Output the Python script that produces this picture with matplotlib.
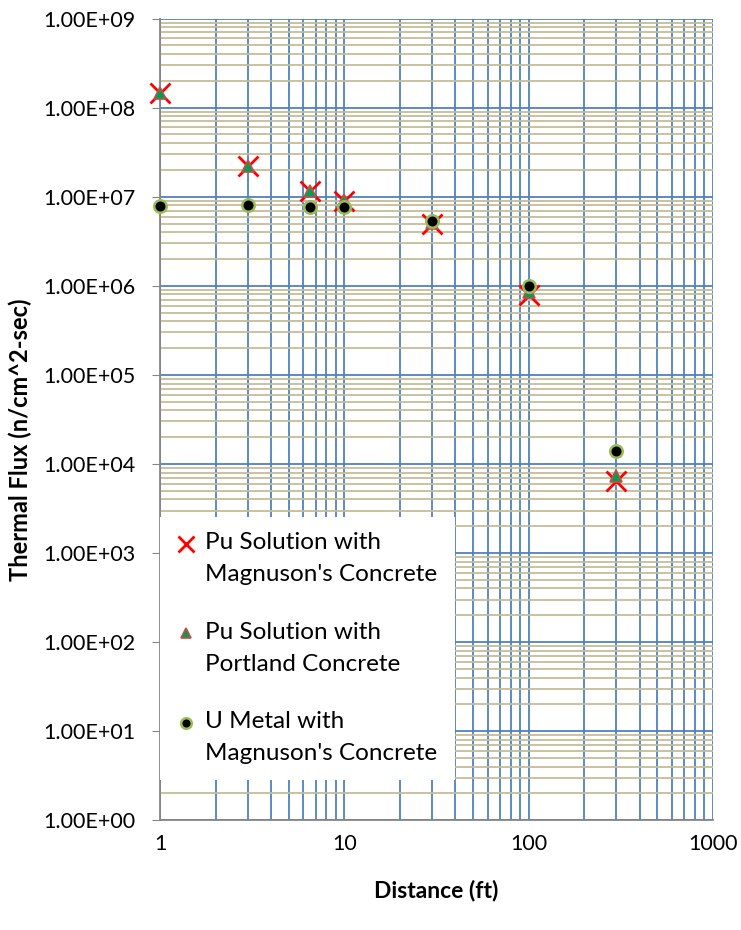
import numpy as np
import matplotlib.pyplot as plt
from matplotlib.ticker import LogLocator, FixedLocator, NullFormatter

# --- data ---
distance_ft = [1, 3, 6.5, 10, 30, 100, 300]
pu_magnuson = [1.47e8, 2.2e7, 1.15e7, 9.0e6, 5.0e6, 7.8e5, 6.5e3]
pu_portland = [1.45e8, 2.2e7, 1.17e7, 9.3e6, 5.1e6, 8.5e5, 7.3e3]
u_magnuson = [7.9e6, 8.0e6, 7.7e6, 7.7e6, 5.4e6, 1.0e6, 1.4e4]

labels = ["Pu Solution with\nMagnuson's Concrete",
          "Pu Solution with\nPortland Concrete",
          "U Metal with\nMagnuson's Concrete"]

plt.rcParams['font.family'] = ['Lato', 'DejaVu Sans']

fig = plt.figure(figsize=(7.41, 9.30), dpi=100)
ax = fig.add_axes([0.216, 0.118, 0.746, 0.862])

ax.set_xscale('log')
ax.set_yscale('log')
ax.set_xlim(1, 1000)
ax.set_ylim(1, 1e9)

blue = '#4f81bd'
tan = '#c4bd97'

# grid
ax.xaxis.set_major_locator(FixedLocator([1, 10, 100, 1000]))
ax.xaxis.set_minor_locator(LogLocator(base=10, subs=np.arange(2, 10), numticks=20))
ax.yaxis.set_major_locator(FixedLocator([10.0**k for k in range(0, 10)]))
ax.yaxis.set_minor_locator(LogLocator(base=10, subs=np.arange(2, 10), numticks=20))
ax.xaxis.set_minor_formatter(NullFormatter())
ax.yaxis.set_minor_formatter(NullFormatter())
ax.grid(True, which='major', axis='both', color=blue, lw=1.3, zorder=0)
ax.grid(True, which='minor', axis='x', color=blue, lw=1.3, zorder=0)
ax.grid(True, which='minor', axis='y', color=tan, lw=1.3, zorder=0)
ax.set_axisbelow(True)

ax.set_xticklabels(['1', '10', '100', '1000'])
ax.set_yticklabels(['1.00E+%02d' % k for k in range(0, 10)])
ax.tick_params(axis='x', which='both', length=0, pad=10, labelsize=15.5)
ax.tick_params(axis='y', which='major', length=6, color='#868686', pad=12, labelsize=15.5)
ax.tick_params(axis='y', which='minor', length=0)

for s in ['top', 'right']:
    ax.spines[s].set_visible(False)
for s in ['left', 'bottom']:
    ax.spines[s].set_color('#868686')
    ax.spines[s].set_linewidth(1.3)

ax.plot(distance_ft, pu_magnuson, ls='none', marker='x', ms=14, mew=2,
        color='#ff0000', label=labels[0], zorder=3, clip_on=False)
ax.plot(distance_ft, pu_portland, ls='none', marker='^', ms=8, mew=1.2,
        mfc='#00a050', mec='#c0504d', label=labels[1], zorder=4, clip_on=False)
ax.plot(distance_ft, u_magnuson, ls='none', marker='o', ms=9, mew=1.8,
        mfc='black', mec='#9bbb59', label=labels[2], zorder=5, clip_on=False)

ax.set_xlabel('Distance (ft)', fontsize=16.5, fontweight='bold', labelpad=18)
ax.set_ylabel('Thermal Flux (n/cm^2-sec)', fontsize=17, fontweight='bold')
ax.yaxis.set_label_coords(-0.232, 0.475)

leg = ax.legend(loc='lower left', bbox_to_anchor=(0.0, 0.05, 0.533, 0.337),
                mode='expand', fontsize=17.5, frameon=True, fancybox=False,
                framealpha=1, edgecolor='none', handlelength=0.8,
                handletextpad=0.4, labelspacing=1.5,
                borderpad=0.65, borderaxespad=0, markerscale=0.85)
leg.get_frame().set_linewidth(0)
for t in leg.get_texts():
    t.set_linespacing(1.65)
# line the legend markers up with the first line of each label
for h in leg.legend_handles:
    h.set_ydata(np.asarray(h.get_ydata()) + 11)

fig.savefig('out.png', dpi=100)
